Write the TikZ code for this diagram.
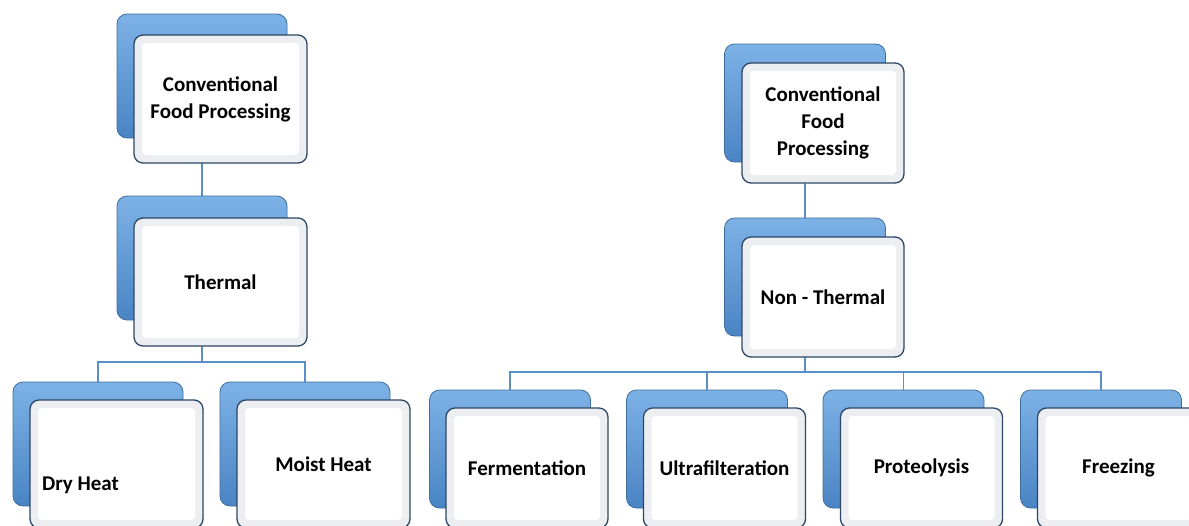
\documentclass[tikz,border=0pt]{standalone}
\usepackage{fontspec}
\setmainfont{Carlito}
\usetikzlibrary{backgrounds}
\definecolor{blueLt}{HTML}{7DB2E6}
\definecolor{blueDk}{HTML}{4A84C4}
\definecolor{blueBd}{HTML}{3F6E9E}
\definecolor{frontBd}{HTML}{2C4763}
\definecolor{lineC}{HTML}{5B8FC9}
\definecolor{bevel}{HTML}{ECEEF1}
\tikzset{
  backbox/.style={draw=blueBd, line width=0.8pt, rounded corners=10pt,
    top color=blueLt, bottom color=blueDk, inner sep=0pt},
  frontbox/.style={draw=frontBd, line width=1.3pt, rounded corners=9pt, fill=white,
    inner sep=0pt, align=center,
    font=\fontsize{21}{27}\selectfont\bfseries,
    path picture={
      \fill[bevel] (path picture bounding box.south west) rectangle (path picture bounding box.north east);
      \fill[white, rounded corners=4pt] ([shift={(8pt,-8pt)}]path picture bounding box.north west)
        rectangle ([shift={(-8pt,8pt)}]path picture bounding box.south east);
    }},
  backL/.style={backbox, minimum width=170pt, minimum height=124pt},
  frontL/.style={frontbox, minimum width=173pt, minimum height=128pt},
  backR/.style={backbox, minimum width=161pt, minimum height=118pt},
  frontR/.style={frontbox, minimum width=162pt, minimum height=120pt},
  conn/.style={draw=lineC, line width=1.6pt},
  lbl/.style={font=\fontsize{21}{27}\selectfont\bfseries, inner sep=0pt}
}
\begin{document}
\begin{tikzpicture}[x=1pt,y=-1pt]
\clip (0,0) rectangle (1189,525);
% ---------- left tree ----------
\node[backL] (cfpLb) at (202,76) {};
\node[frontL] (cfpL) at (220.5,99) {Conventional\\Food Processing};
\node[backL] (thb) at (202,258) {};
\node[frontL] (th) at (220.5,282) {Thermal};
\node[backL] (dryb) at (98,444) {};
\node[frontL] (dry) at (116.5,464) {};
\node[lbl, anchor=west] (drytxt) at (42,485) {Dry Heat};
\node[backL] (moistb) at (305,444) {};
\node[frontL] (moist) at (323.5,464) {Moist Heat};
\coordinate (busL) at (202,362);
% ---------- right tree ----------
\node[backR] (cfpRb) at (805,103) {};
\node[frontR] (cfpR) at (823,123) {Conventional\\Food\\Processing};
\node[backR] (ntb) at (805,277) {};
\node[frontR] (nt) at (823,297) {Non - Thermal};
\node[backR] (ferb) at (510,449) {};
\node[frontR] (fer) at (527,468) {Fermentation};
\node[backR] (ultb) at (707,449) {};
\node[frontR] (ult) at (724.5,468) {Ultrafilteration};
\node[backR] (prob) at (903.5,449) {};
\node[frontR] (pro) at (921.5,468) {Proteolysis};
\node[backR] (frzb) at (1101,449) {};
\node[frontR] (frz) at (1118.5,468) {Freezing};
\coordinate (busR) at (805,372);
% ---------- connectors ----------
\begin{scope}[on background layer]
\fill[white] (0,0) rectangle (1189,525);
\draw[conn] (cfpLb.south) -- (thb.north);
\draw[conn] (thb.south) -- (busL);
\draw[conn] (busL) -| (dryb.north);
\draw[conn] (busL) -| (moistb.north);
\draw[conn] (cfpRb.south) -- (ntb.north);
\draw[conn] (ntb.south) -- (busR);
\draw[conn] (busR) -| (ferb.north);
\draw[conn] (busR) -| (ultb.north);
\draw[conn] (busR) -| (prob.north);
\draw[conn] (busR) -| (frzb.north);
\end{scope}
\end{tikzpicture}
\end{document}
